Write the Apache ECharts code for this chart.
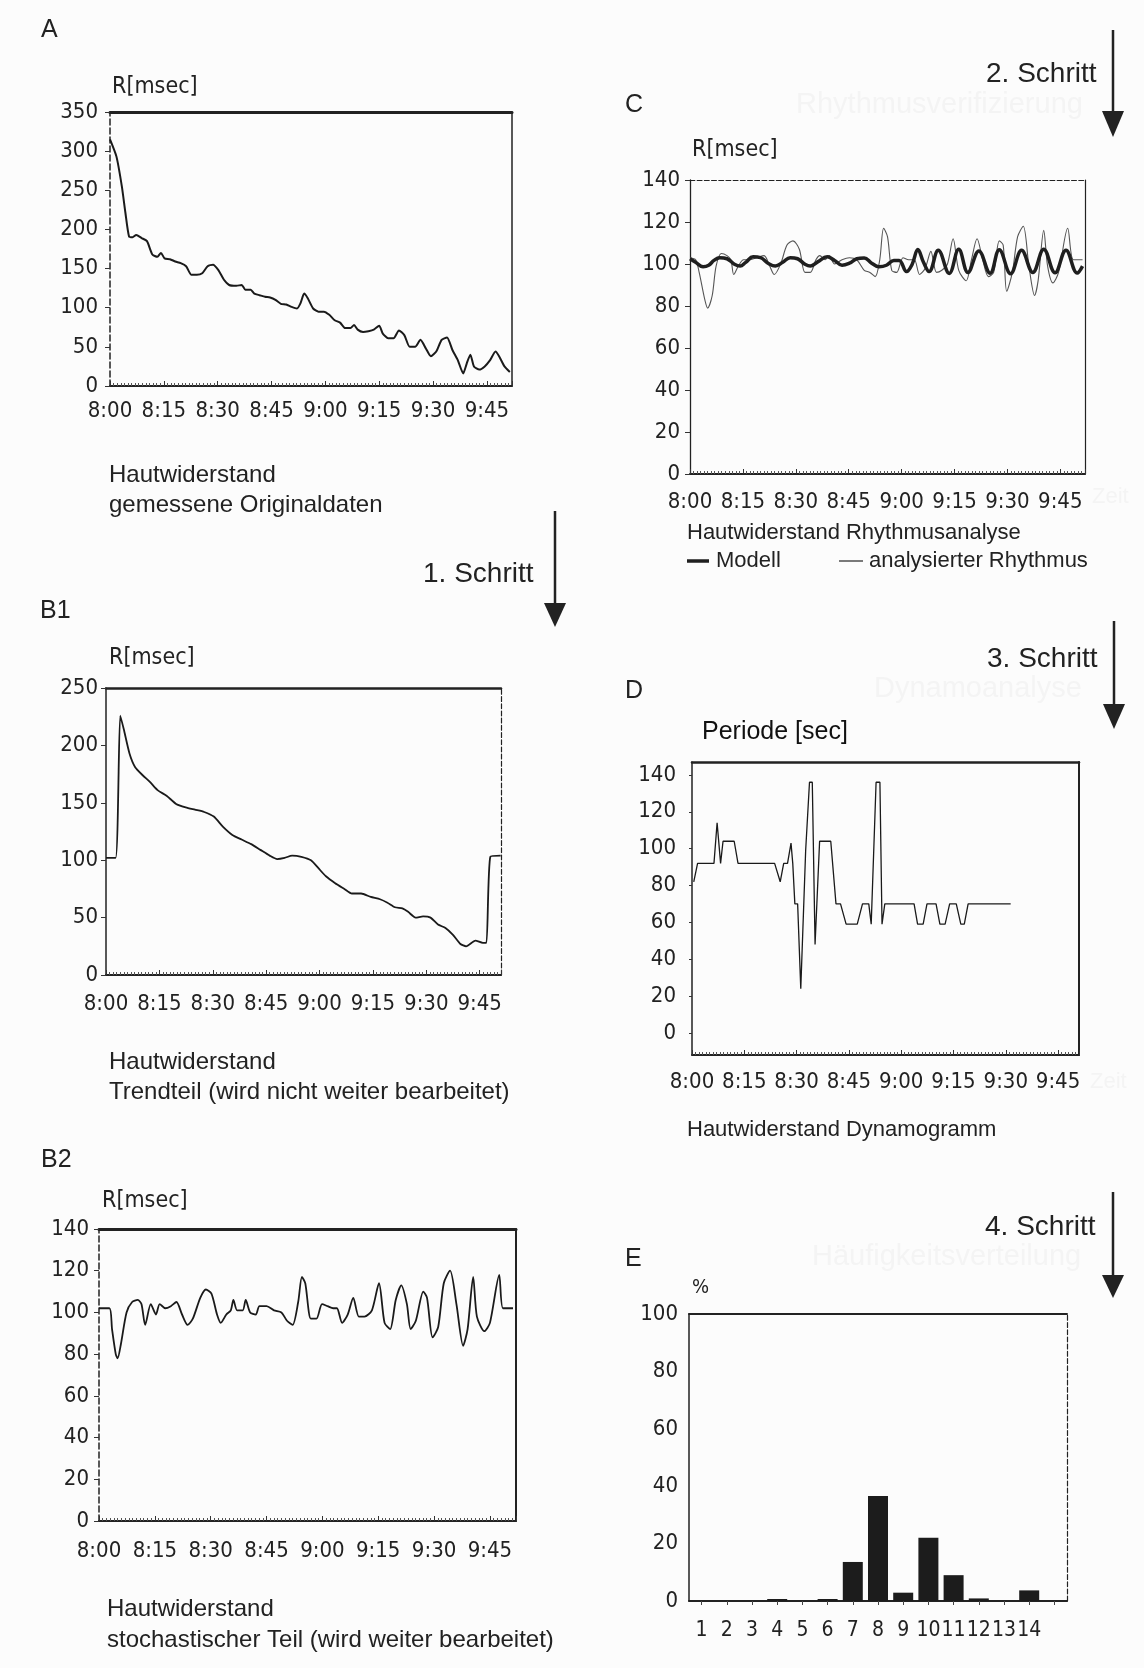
<!DOCTYPE html>
<html>
<head>
<meta charset="utf-8">
<script src="https://cdn.jsdelivr.net/npm/echarts@6/dist/echarts.min.js"></script>
<style>
html,body{margin:0;padding:0;background:#fcfcfc;}
#chart{width:1144px;height:1668px;}
</style>
</head>
<body>
<div id="chart"></div>
<script>
// ---------- DATA ----------
const timeLabels = ['8:00','8:15','8:30','8:45','9:00','9:15','9:30','9:45'];

// A: gemessene Originaldaten (minutes after 8:00, R msec)
const aT = [0,1.8,3.3,4.3,5.3,6.3,7.3,8.8,10.3,11.8,13.2,14.2,15.2,16.7,18.2,19.7,21.2,22.7,24.2,25.7,27.2,28.7,30.2,31.7,33.2,35.2,36.7,37.7,39.2,40.2,41.7,43.2,44.6,46.1,47.6,49.1,50.6,52.1,53.1,54.1,55.1,56.6,58.1,59.6,61.1,62.6,64.1,65.5,67.0,68.0,69.0,70.5,72.0,73.5,75.0,76.0,77.5,79.0,80.5,82.0,83.5,85.0,86.5,88.0,89.4,90.9,92.4,93.9,95.4,96.9,98.4,99.4,100.4,101.4,102.9,104.4,105.9,107.4,108.4,109.9,111.4];
const aV = [315,293,255,221,191,190,193,189,185,168,165,170,163,162,159,157,153,142,142,144,153,155,148,136,129,128,129,123,123,118,116,114,113,110,105,104,101,99,106,118,112,99,95,95,91,84,81,74,74,78,72,69,70,72,77,67,61,61,71,65,50,50,59,48,38,44,59,62,46,33,16,29,40,25,21,25,33,44,38,25,18];

// B1: Trendteil
const b1T = [0,2.7,4.0,5.0,6.6,8.2,10.3,12.4,14.5,17.1,19.7,22.4,25.0,27.6,30.3,32.9,35.5,38.1,40.8,43.4,46.0,48.1,50.2,52.3,54.9,57.6,59.7,61.8,64.4,67.0,69.1,71.7,74.4,77.0,79.1,81.2,83.3,84.9,87.0,89.1,91.2,93.3,95.4,97.5,99.6,101.2,103.8,105.9,106.9,108.0,110.9];
const b1V = [102,102,226,214,193,181,174,168,161,156,149,146,144,142,138,129,122,118,114,109,104,101,102,104,103,100,93,86,80,75,71,71,68,66,63,59,58,55,50,51,50,44,41,35,27,25,30,28,28,103,104];

// B2: stochastischer Teil
const b2T = [0,2.8,3.5,4.5,5.0,5.9,7.4,8.9,10.4,11.4,12.4,13.9,15.3,16.3,17.8,19.3,20.8,22.3,23.8,25.2,27.2,28.7,30.2,31.7,32.7,34.2,35.4,36.1,37.1,38.6,39.4,40.6,42.1,43.1,45.0,47.0,49.0,50.5,52.0,53.5,54.5,55.4,56.9,58.4,59.9,61.4,62.9,63.9,65.3,66.8,68.3,69.8,71.3,73.3,75.2,76.7,78.2,79.7,81.2,82.7,83.7,85.1,87.1,88.1,89.6,91.1,92.6,94.3,96.0,97.8,99.0,100.5,101.5,103.5,105.0,107.5,108.5,111.2];
const b2V = [102,102,92,80,78,85,100,105,106,104,94,104,99,104,102,103,105,99,94,97,107,111,109,99,95,99,101,106,101,101,106,100,99,103,103,101,100,96,94,105,117,114,97,97,104,103,102,102,95,99,107,98,98,101,114,95,92,106,113,104,92,96,110,107,88,93,114,120,104,84,92,117,98,91,95,118,102,102];

// C: analysierter Rhythmus
const cT = [0,1.6,2.6,4.2,5.0,6.3,7.4,8.9,10.5,11.6,12.4,13.7,15.2,16.8,18.9,21,22.6,23.9,25.7,27.5,29.2,31.0,32.6,34.1,35.7,36.8,38.3,39.4,41,43.1,45.2,47.3,49.4,51,52.5,53.8,54.9,56.0,57.2,58.6,60.4,62,63.6,65.1,66.7,68.3,69.9,71.4,73.0,74.6,76.2,78.3,79.8,81.4,83,84.6,86.1,87.7,88.8,89.8,91.4,92.9,94.5,96.1,97.7,98.7,100.3,101.4,102.9,104.5,107.1,108.7,111.3];
const cV = [103,102,96,83,79,85,99,105,104,102,95,99,102,102,103,104,99,95,100,109,111,107,96,96,102,104,102,104,100,102,103,102,97,96,94,102,117,113,97,96,103,102,102,95,98,106,96,97,100,112,97,92,102,112,102,94,96,111,109,87,96,113,118,99,85,92,116,99,91,96,117,102,102];
// C: Modell
const mT = [0,1.6,3.7,5.3,6.8,8.4,10.5,12.6,14.2,15.8,17.9,20.0,22.1,24.2,26.3,28.4,30.5,32.6,34.1,36.2,38.9,41,43.1,45.2,47.3,49.4,51.5,53.6,55.7,57.8,59.3,61.4,63.0,64.6,66.2,67.8,70.4,73.5,76.2,78.8,81.9,85.1,87.7,90.9,94.0,97.2,100.3,103.5,106.6,109.8,111.3];
const mV = [102.5,100.8,98.7,99.4,101.7,103,102.5,99.9,99,100.8,103.4,103,100.4,99,100.8,103,102.5,99.9,99,101,103.4,101.7,99.4,100.4,102.5,102.9,100.4,98.7,99.4,101.7,101.7,96.4,99.9,106.9,100.8,96.4,106.5,95.5,107,96,106.2,95.6,106.8,95.4,106.5,96,107,95.8,106.6,95.7,99];

// D: Periode [sec]
const dT = [0.5,1.6,6.3,7.2,8.2,8.9,12.1,13.2,23.7,25.3,26.3,27.4,28.4,28.9,29.5,30.3,31.2,32.6,33.7,34.5,35.3,36.6,39.8,41.3,42.6,44.2,47.4,48.9,50.7,51.4,52.8,53.9,54.5,55.3,63.7,64.7,66.3,67.4,70.0,71.1,72.6,73.9,75.8,77.1,78.1,79.2,91.4];
const dV = [82,92,92,114,92,104,104,92,92,82,92,92,103,92,70,70,24,99,136,136,48,104,104,70,70,59,59,70,70,59,136,136,59,70,70,59,59,70,70,59,59,70,70,59,59,70,70];

// E: Häufigkeitsverteilung
const eCats = ['1','2','3','4','5','6','7','8','9','10','11','12','13','14',''];
const eVals = [0,0,0,0.7,0,0.7,13.6,36.6,2.9,22,9,0.9,0,3.7,null];

const yTicksD = [0,20,40,60,80,100,120,140];

// ---------- STYLE ----------
const NARROW = "'Liberation Sans Narrow','Arial Narrow','DejaVu Sans Condensed',sans-serif";
const SANS = "'Liberation Sans',Arial,Helvetica,sans-serif";
const INK = '#222';
const TICKFS = 22;

const grids = [
  {left:110, top:112, width:402, height:274},   // A
  {left:106, top:688, width:395, height:287},   // B1
  {left:99,  top:1229, width:417, height:292},  // B2
  {left:690, top:180, width:395, height:294},   // C
  {left:692, top:762, width:387, height:293},   // D
  {left:689, top:1314, width:378, height:287}   // E
];

const panels = [
  {xmax:112, ymin:0, ymax:350, yint:50, xm:14, ym:12, top:{w:3,t:'solid'}, left:{w:1.5,t:'dashed'}, right:{w:1.5,t:'solid'}},
  {xmax:111, ymin:0, ymax:250, yint:50, xm:18, ym:8, top:{w:2.5,t:'solid'}, left:{w:1.5,t:'solid'}, right:{w:1.2,t:'dashed'}},
  {xmax:112, ymin:0, ymax:140, yint:20, xm:19, ym:10, top:{w:3,t:'solid'}, left:{w:1.5,t:'dashed'}, right:{w:2,t:'solid'}},
  {xmax:112, ymin:0, ymax:140, yint:20, xm:17, ym:10, top:{w:1.2,t:'dashed'}, left:{w:1.3,t:'solid'}, right:{w:1.2,t:'solid'}},
  {xmax:111, ymin:-12, ymax:147, yint:null, xm:16, ym:16, top:{w:2.5,t:'solid'}, left:{w:1.5,t:'solid'}, right:{w:2,t:'solid'}}
];

const xAxes = [], yAxes = [];
panels.forEach((p,i)=>{
  xAxes.push({
    gridIndex:i, type:'value', min:0, max:p.xmax, interval:15, position:'bottom',
    axisLine:{show:true, onZero:false, lineStyle:{color:INK, width:2}},
    axisTick:{show:true, inside:true, length:5, lineStyle:{color:'#333', width:1}},
    minorTick:{show:true, splitNumber:15, length:3, lineStyle:{color:'#555', width:1}},
    splitLine:{show:false}, minorSplitLine:{show:false},
    axisLabel:{margin:p.xm, fontSize:TICKFS, fontFamily:NARROW, color:INK, showMaxLabel:false,
      formatter:v=>{const k=Math.round(v/15); return (Math.abs(v-k*15)<1e-6 && k<timeLabels.length)? timeLabels[k] : '';}}
  });
  xAxes.push({
    gridIndex:i, type:'value', min:0, max:p.xmax, position:'top',
    axisLine:{show:true, onZero:false, lineStyle:{color:INK, width:p.top.w, type:p.top.t}},
    axisTick:{show:false}, axisLabel:{show:false}, splitLine:{show:false}
  });
  const yl = {
    gridIndex:i, type:'value', min:p.ymin, max:p.ymax, position:'left',
    axisLine:{show:true, onZero:false, lineStyle:{color:INK, width:p.left.w, type:p.left.t}},
    axisTick:{show:true, length:5, lineStyle:{color:'#333'}},
    splitLine:{show:false},
    axisLabel:{margin:p.ym, fontSize:22, fontFamily:NARROW, color:INK}
  };
  if (p.yint) { yl.interval = p.yint; }
  else { yl.axisLabel.customValues = yTicksD; yl.axisTick.customValues = yTicksD; yl.axisTick.length = 3; }
  yAxes.push(yl);
  yAxes.push({
    gridIndex:i, type:'value', min:p.ymin, max:p.ymax, position:'right',
    axisLine:{show:true, onZero:false, lineStyle:{color:INK, width:p.right.w, type:p.right.t}},
    axisTick:{show:false}, axisLabel:{show:false}, splitLine:{show:false}
  });
});
// E axes
xAxes.push({
  gridIndex:5, type:'category', data:eCats, position:'bottom',
  axisLine:{show:true, onZero:false, lineStyle:{color:INK, width:2}},
  axisTick:{show:true, alignWithLabel:true, length:4, lineStyle:{color:'#444'}},
  axisLabel:{interval:0, margin:19, fontSize:21, fontFamily:NARROW, color:INK}
});
xAxes.push({
  gridIndex:5, type:'category', data:eCats, position:'top',
  axisLine:{show:true, onZero:false, lineStyle:{color:INK, width:2}},
  axisTick:{show:false}, axisLabel:{show:false}
});
yAxes.push({
  gridIndex:5, type:'value', min:0, max:100, interval:20, position:'left',
  axisLine:{show:true, onZero:false, lineStyle:{color:INK, width:1.5}},
  axisTick:{show:false}, splitLine:{show:false},
  axisLabel:{margin:11, fontSize:22, fontFamily:NARROW, color:INK}
});
yAxes.push({
  gridIndex:5, type:'value', min:0, max:100, position:'right',
  axisLine:{show:true, onZero:false, lineStyle:{color:INK, width:1.2, type:'dashed'}},
  axisTick:{show:false}, axisLabel:{show:false}, splitLine:{show:false}
});

const pairs = (T,V)=>T.map((t,i)=>[t,V[i]]);
const lineSeries = (T,V,xi,yi,w,col,sm)=>({
  type:'line', xAxisIndex:xi, yAxisIndex:yi, data:pairs(T,V),
  showSymbol:false, symbol:'none', smooth:sm, animation:false,
  lineStyle:{color:col, width:w}
});

const series = [
  lineSeries(aT,aV,0,0,2,'#1a1a1a',0.2),
  lineSeries(b1T,b1V,2,2,1.8,'#1a1a1a',0.2),
  lineSeries(b2T,b2V,4,4,1.8,'#1a1a1a',0.25),
  lineSeries(cT,cV,6,6,1.1,'#555',0.3),
  lineSeries(mT,mV,6,6,3.5,'#1f1f1f',0.4),
  lineSeries(dT,dV,8,8,1.3,'#1a1a1a',false),
  {type:'bar', xAxisIndex:10, yAxisIndex:10, data:eVals, barWidth:20, animation:false,
   itemStyle:{color:'#1c1c1c'}}
];

// ---------- GRAPHIC TEXT & ARROWS ----------
const G = [];
const txt = (x,y,s,size,font,opts)=>G.push(Object.assign({type:'text', x:x, y:y, silent:true,
  style:Object.assign({text:s, fill:INK, fontSize:size, fontFamily:font, textVerticalAlign:'middle', textAlign:'left'}, (opts||{}))}));
const arrow = (x,y1,yh,yt)=>{
  G.push({type:'line', silent:true, shape:{x1:x,y1:y1,x2:x,y2:yh+2}, style:{stroke:'#222', lineWidth:2.5}});
  G.push({type:'polygon', silent:true, shape:{points:[[x-11,yh],[x+11,yh],[x,yt]]}, style:{fill:'#222'}});
};
const FAINT = {fill:'#f4f4f4'};

// Panel A
txt(41,30,'A',25,SANS);
txt(112,87,'R[msec]',23,NARROW);
txt(109,475,'Hautwiderstand',24,SANS);
txt(109,505,'gemessene Originaldaten',24,SANS);
// B1
txt(423,574,'1. Schritt',28,SANS);
arrow(555,511,603,627);
txt(40,611,'B1',25,SANS);
txt(109,658,'R[msec]',23,NARROW);
txt(109,1062,'Hautwiderstand',24,SANS);
txt(109,1092,'Trendteil (wird nicht weiter bearbeitet)',24,SANS);
// B2
txt(41,1160,'B2',25,SANS);
txt(102,1201,'R[msec]',23,NARROW);
txt(107,1609,'Hautwiderstand',24,SANS);
txt(107,1640,'stochastischer Teil (wird weiter bearbeitet)',24,SANS);
// C
txt(625,105,'C',25,SANS);
txt(986,74,'2. Schritt',28,SANS);
txt(796,105,'Rhythmusverifizierung',29,SANS,FAINT);
arrow(1113,30,111,137);
txt(692,150,'R[msec]',23,NARROW);
txt(687,533,'Hautwiderstand Rhythmusanalyse',22,SANS);
G.push({type:'line', silent:true, shape:{x1:687,y1:561,x2:709,y2:561}, style:{stroke:'#1f1f1f', lineWidth:3.5}});
txt(716,561,'Modell',22,SANS);
G.push({type:'line', silent:true, shape:{x1:839,y1:561,x2:863,y2:561}, style:{stroke:'#333', lineWidth:1.3}});
txt(869,561,'analysierter Rhythmus',22,SANS);
txt(1092,497,'Zeit',22,SANS,FAINT);
// D
txt(625,691,'D',25,SANS);
txt(987,659,'3. Schritt',28,SANS);
txt(874,689,'Dynamoanalyse',29,SANS,FAINT);
arrow(1114,621,704,729);
txt(702,732,'Periode [sec]',25,SANS,{fill:'#111'});
txt(687,1130,'Hautwiderstand Dynamogramm',22,SANS);
txt(1090,1082,'Zeit',22,SANS,FAINT);
// E
txt(625,1259,'E',25,SANS);
txt(985,1227,'4. Schritt',28,SANS);
txt(812,1257,'Häufigkeitsverteilung',29,SANS,FAINT);
arrow(1113,1192,1275,1298);
txt(692,1288,'%',20,NARROW);

const chart = echarts.init(document.getElementById('chart'), null, {renderer:'canvas'});
chart.setOption({
  backgroundColor:'#fcfcfc',
  animation:false,
  grid:grids,
  xAxis:xAxes,
  yAxis:yAxes,
  series:series,
  graphic:G
});
</script>
</body>
</html>
